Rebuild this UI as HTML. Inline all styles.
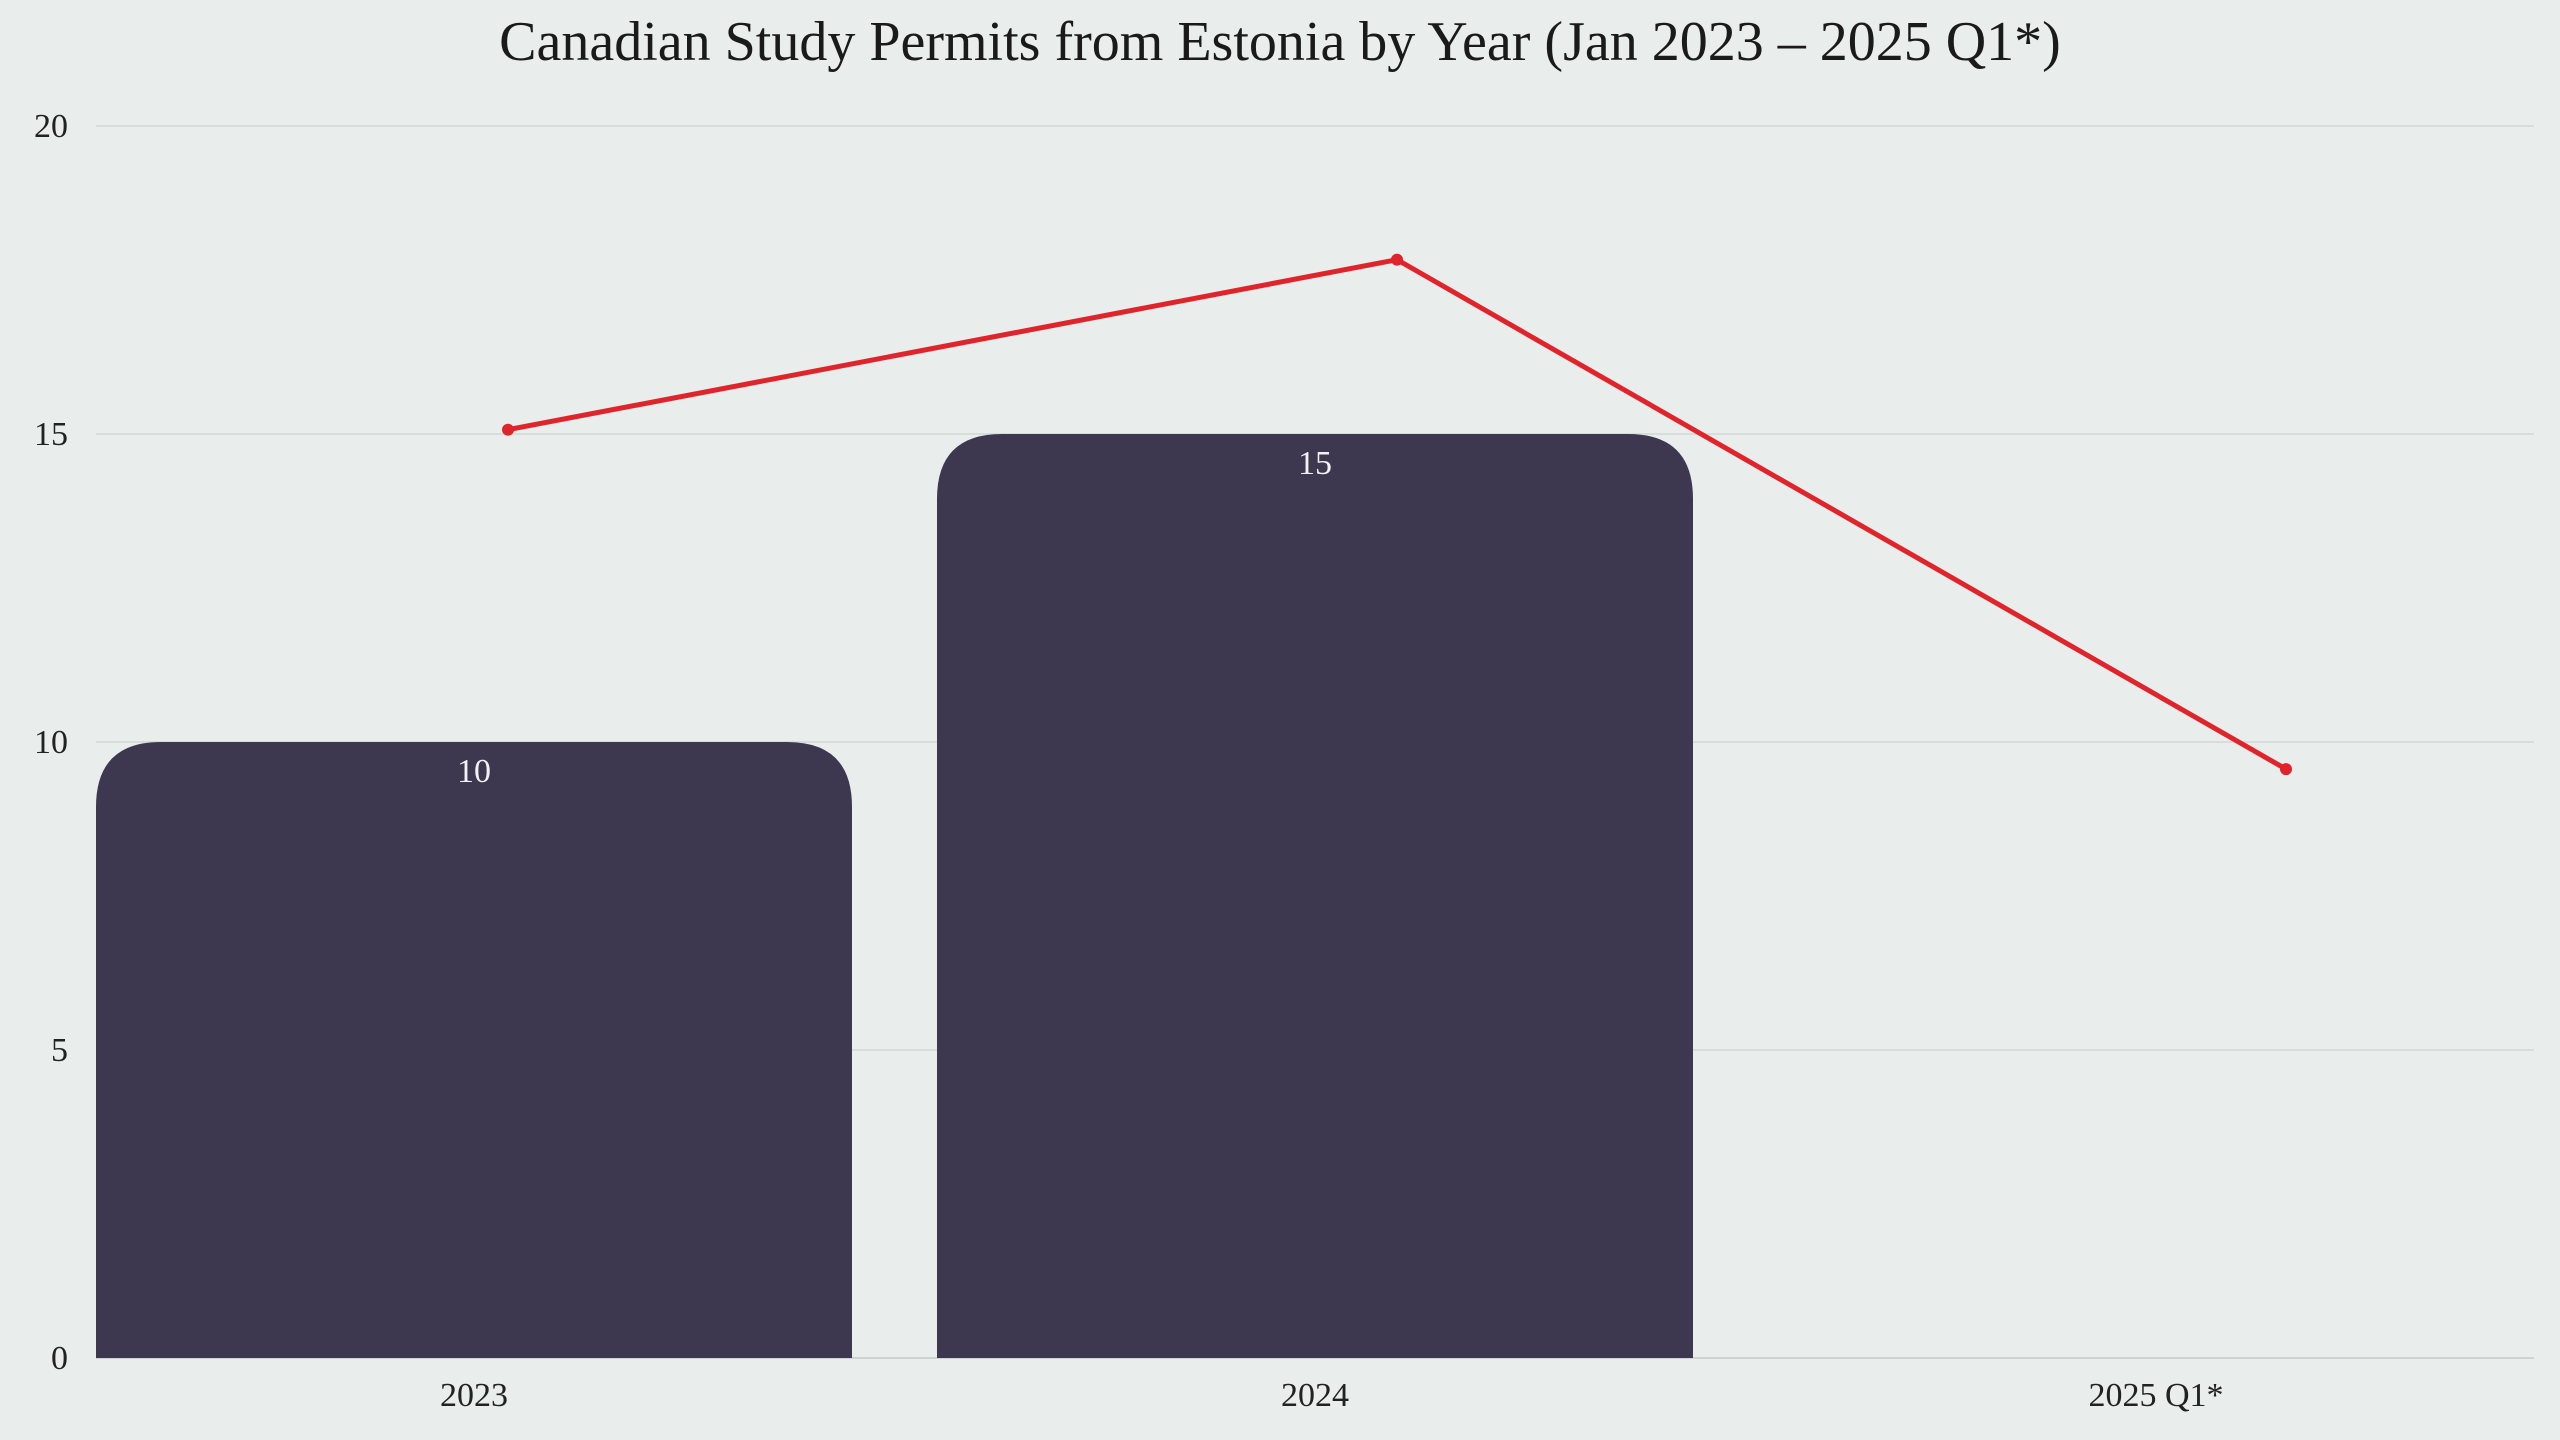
<!DOCTYPE html>
<html><head><meta charset="utf-8"><style>
html,body{margin:0;padding:0;background:#e9edeb;}
svg{display:block;font-family:"Liberation Serif",serif;}
</style></head><body>
<svg id="chart" width="2560" height="1440" viewBox="0 0 2560 1440" xmlns="http://www.w3.org/2000/svg">
<rect width="2560" height="1440" fill="#e9edeb"/>
<text x="1280" y="60" text-anchor="middle" font-size="56" fill="#1a1a1a">Canadian Study Permits from Estonia by Year (Jan 2023 – 2025 Q1*)</text>
<g id="grid"></g>
<g id="bars"></g>
<g id="line"></g>
<g id="axes"></g>
</svg>
<script>
const categories = ["2023", "2024", "2025 Q1*"];
const barValues = [10, 15, 0];
const lineValues = [15.07, 17.83, 9.56];
const yTicks = [0, 5, 10, 15, 20];

const NS = "http://www.w3.org/2000/svg";
const plotL = 96, plotR = 2534, y0 = 1358, yTop = 126, yMax = 20;
const band = (plotR - plotL) / categories.length * 1.0345;
function yScale(v){ return y0 - (v / yMax) * (y0 - yTop); }
function xCenter(i){ return 474 + i * 841; }
function xLine(i){ return 508 + i * 889; }
const barW = 756, r = 65;
function mk(tag, attrs, parent){ const e = document.createElementNS(NS, tag); for (const k in attrs) e.setAttribute(k, attrs[k]); parent.appendChild(e); return e; }

const grid = document.getElementById('grid'), axes = document.getElementById('axes');
yTicks.forEach(t => {
  const y = yScale(t);
  const ln = mk('line', {x1: plotL, x2: plotR, y1: y, y2: y, stroke: t === 0 ? '#cfd3d2' : '#d8dcdb', 'stroke-width': 2}, grid);
  
  
  const tx = mk('text', {x: 68, y: y + 11, 'text-anchor': 'end', 'font-size': 34, fill: '#222'}, axes);
  tx.textContent = t;
  
  
});
categories.forEach((c, i) => {
  const tx = mk('text', {x: xCenter(i), y: 1406, 'text-anchor': 'middle', 'font-size': 34, fill: '#222'}, axes);
  tx.textContent = c;
  
  
});
const bars = document.getElementById('bars');
barValues.forEach((v, i) => {
  if (v <= 0) return;
  const x = xCenter(i) - barW / 2, y = yScale(v), w = barW, rr = Math.min(r, (y0 - y) / 2);
  const d = `M${x},${y0} L${x},${y + rr} Q${x},${y} ${x + rr},${y} L${x + w - rr},${y} Q${x + w},${y} ${x + w},${y + rr} L${x + w},${y0} Z`;
  const p = mk('path', {d: d, fill: '#3d384f'}, bars);
  
  
  const t = mk('text', {x: xCenter(i), y: y + 40, 'text-anchor': 'middle', 'font-size': 34, fill: '#f2f2f2'}, bars);
  t.textContent = v;
  
  
});
const lineG = document.getElementById('line');
const pts = lineValues.map((v, i) => xLine(i) + ',' + yScale(v)).join(' ');
const pl = mk('polyline', {points: pts, fill: 'none', stroke: '#e0242b', 'stroke-width': 5, 'stroke-linejoin': 'round'}, lineG);


lineValues.forEach((v, i) => {
  const c = mk('circle', {cx: xLine(i), cy: yScale(v), r: 6, fill: '#e0242b'}, lineG);
  
  
});
</script>
</body></html>
